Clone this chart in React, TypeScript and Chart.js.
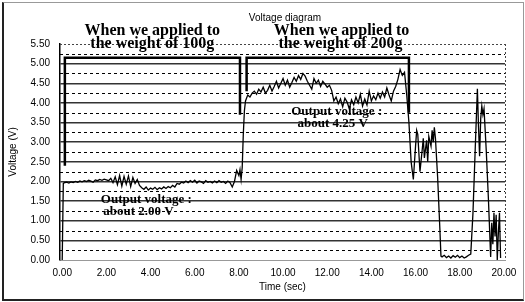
import React, { useEffect, useRef } from "react";
import { Chart, registerables } from "chart.js";

Chart.register(...registerables);

// ---- data ----
const timeSec = [
  0.0, 0.05, 0.1, 0.2, 0.3, 0.4, 0.5, 0.6, 0.7, 0.8, 0.9, 1.0, 1.1, 1.2, 1.3, 1.4, 1.5, 1.6, 1.7, 1.8, 1.9,
  2.0, 2.1, 2.2, 2.3, 2.4, 2.5, 2.6, 2.7, 2.8, 2.9, 3.0, 3.1, 3.2, 3.3, 3.4, 3.5, 3.6, 3.7, 3.8, 3.9,
  4.0, 4.1, 4.2, 4.3, 4.4, 4.5, 4.6, 4.7, 4.8, 4.9, 5.0, 5.1, 5.2, 5.3, 5.4, 5.5, 5.6, 5.7, 5.8, 5.9,
  6.0, 6.1, 6.2, 6.3, 6.4, 6.5, 6.6, 6.7, 6.8, 6.9, 7.0, 7.1, 7.2, 7.3, 7.4, 7.5, 7.6, 7.7, 7.8, 7.9,
  8.0, 8.05, 8.1, 8.15, 8.2, 8.25, 8.3, 8.4, 8.5, 8.6, 8.7, 8.8, 8.9,
  9.0, 9.1, 9.2, 9.3, 9.4, 9.5, 9.6, 9.7, 9.8, 9.9,
  10.0, 10.1, 10.2, 10.3, 10.4, 10.5, 10.6, 10.7, 10.8, 10.9,
  11.0, 11.1, 11.2, 11.3, 11.4, 11.5, 11.6, 11.7, 11.8, 11.9,
  12.0, 12.1, 12.2, 12.3, 12.4, 12.5, 12.6, 12.7, 12.8, 12.9,
  13.0, 13.1, 13.2, 13.3, 13.4, 13.5, 13.6, 13.7, 13.8, 13.9,
  14.0, 14.1, 14.2, 14.3, 14.4, 14.5, 14.6, 14.7, 14.8, 14.9,
  15.0, 15.1, 15.2, 15.3, 15.4, 15.5, 15.6, 15.7, 15.8, 15.9,
  16.0, 16.05, 16.1, 16.2, 16.3, 16.35, 16.4, 16.5, 16.55, 16.6, 16.7, 16.75, 16.8, 16.85, 16.9,
  17.0, 17.1, 17.15, 17.2, 17.3, 17.4, 17.5, 17.6, 17.7, 17.8, 17.9,
  18.0, 18.1, 18.2, 18.3, 18.4, 18.5, 18.6, 18.7, 18.8, 18.85, 18.9, 18.95,
  19.0, 19.05, 19.1, 19.2, 19.3, 19.4, 19.45, 19.5, 19.55, 19.6, 19.65, 19.7, 19.75, 19.8, 19.85,
];
const voltage = [
  0.0, 1.95, 1.97, 1.98, 1.96, 1.99, 1.97, 2.0, 1.98, 2.01, 1.99, 2.02, 2.0, 2.03, 2.01, 1.98, 2.04, 2.02, 2.05, 2.03, 2.06,
  2.04, 2.02, 2.08, 1.97, 2.12, 1.92, 2.15, 1.88, 2.13, 1.93, 2.14, 1.87, 2.1, 1.95, 2.05, 1.9, 1.84, 1.8, 1.86, 1.78,
  1.83, 1.8, 1.85, 1.79, 1.84, 1.81, 1.86, 1.82, 1.87, 1.84, 1.9, 1.86, 1.95, 1.93, 1.98, 1.96, 2.01, 1.97, 2.02, 1.98,
  2.03, 1.96, 2.01, 1.99, 1.95, 2.02, 1.98, 2.0, 1.96, 2.01, 1.97, 2.02, 1.98, 2.0, 1.95, 2.01, 1.97, 1.86, 2.0, 2.28,
  2.15, 2.3, 2.05, 2.35, 3.2, 3.8, 4.05, 4.2, 4.15, 4.25, 4.3, 4.22, 4.35,
  4.28, 4.4, 4.25, 4.32, 4.45, 4.3, 4.42, 4.55, 4.38, 4.5,
  4.62, 4.45, 4.58, 4.4, 4.52, 4.65, 4.55, 4.7, 4.6, 4.75,
  4.68, 4.55, 4.45, 4.35, 4.62, 4.5, 4.58, 4.42, 4.55, 4.48,
  4.4, 4.45, 4.32, 4.05, 4.15, 3.98, 4.1, 3.9, 4.12, 4.02,
  3.85, 4.08, 3.95, 4.15, 4.0, 4.22, 3.92, 4.1, 3.95, 4.3,
  4.05, 4.18, 4.08, 4.25, 4.12, 4.28, 4.15, 4.38, 4.2, 4.05,
  4.3, 4.42, 4.6, 4.85, 4.7, 4.78, 4.2, 3.5, 2.5, 2.05,
  2.9, 3.3, 3.2, 2.25, 2.8, 3.1, 2.6, 3.05, 2.5, 3.15, 2.9, 3.3, 3.0, 3.38, 3.1,
  2.1, 0.8, 0.1, 0.08, 0.12, 0.06, 0.1, 0.05, 0.11, 0.07, 0.12,
  0.06, 0.1, 0.05, 0.08, 0.12, 0.15, 1.2, 2.8, 4.36, 3.4, 2.64, 3.6,
  3.92, 3.7, 3.85, 2.8, 1.54, 0.08, 0.95, 0.4, 1.2, 0.6, 1.15, 0.0, 0.7, 1.2, 0.05,
];

const bracket100T = [0.12, 0.12, 8.05, 8.05];
const bracket100V = [2.4, 5.15, 5.15, 3.7];
const bracket200T = [8.35, 8.35, 15.7, 15.7];
const bracket200V = [4.3, 5.15, 5.15, 3.75];

const xTickValues = [0, 2, 4, 6, 8, 10, 12, 14, 16, 18, 20];
const yTickValues = [0, 0.5, 1, 1.5, 2, 2.5, 3, 3.5, 4, 4.5, 5, 5.5];
const dashedLevels = [0.25, 0.75, 1.25, 1.75, 2.25, 2.75, 3.25, 3.75, 4.25, 4.75, 5.25];

const chartTitle = "Voltage diagram";
const xTitle = "Time (sec)";
const yTitle = "Voltage (V)";

const notes = [
  { text: "When we applied to", t: 4.08, v: 5.83, size: 16 },
  { text: "the weight of 100g", t: 4.08, v: 5.5, size: 16 },
  { text: "When we applied to", t: 12.65, v: 5.83, size: 16 },
  { text: "the weight of 200g", t: 12.6, v: 5.5, size: 16 },
  { text: "Output voltage :", t: 3.81, v: 1.53, size: 13 },
  { text: "about 2.00 V", t: 3.45, v: 1.22, size: 13 },
  { text: "Output voltage :", t: 12.43, v: 3.79, size: 13 },
  { text: "about 4.25 V", t: 12.25, v: 3.46, size: 13 },
];

const SANS = "Arial, 'Liberation Sans', sans-serif";
const SERIF = "'Liberation Serif', 'Times New Roman', serif";

const overlayPlugin = {
  id: "overlay",
  beforeDatasetsDraw(chart: any) {
    const { ctx, chartArea, scales } = chart;
    const y = scales.y;
    ctx.save();
    ctx.strokeStyle = "#000";
    ctx.lineWidth = 1;
    ctx.setLineDash([3, 3]);
    for (const lv of dashedLevels) {
      const py = Math.round(y.getPixelForValue(lv)) + 0.5;
      ctx.beginPath();
      ctx.moveTo(chartArea.left, py);
      ctx.lineTo(chartArea.right, py);
      ctx.stroke();
    }
    ctx.setLineDash([2, 2]);
    ctx.strokeStyle = "#444";
    ctx.beginPath();
    ctx.moveTo(chartArea.left, Math.round(chartArea.top) + 0.5);
    ctx.lineTo(chartArea.right, Math.round(chartArea.top) + 0.5);
    ctx.moveTo(Math.round(chartArea.right) + 0.5, chartArea.top);
    ctx.lineTo(Math.round(chartArea.right) + 0.5, chartArea.bottom);
    ctx.stroke();
    ctx.restore();
  },
  afterDraw(chart: any) {
    const { ctx, chartArea, scales } = chart;
    const x = scales.x;
    const y = scales.y;
    ctx.save();
    ctx.fillStyle = "#000";
    ctx.textAlign = "center";
    ctx.textBaseline = "middle";
    for (const n of notes) {
      ctx.font = `bold ${n.size}px ${SERIF}`;
      ctx.fillText(n.text, x.getPixelForValue(n.t), y.getPixelForValue(n.v));
    }
    ctx.font = `10px ${SANS}`;
    ctx.fillText(chartTitle, 285, 18);
    ctx.fillText(xTitle, (chartArea.left + chartArea.right) / 2, 287);
    ctx.translate(13, (chartArea.top + chartArea.bottom) / 2);
    ctx.rotate(-Math.PI / 2);
    ctx.fillText(yTitle, 0, 0);
    ctx.restore();
  },
};

export default function App() {
  const canvasRef = useRef<HTMLCanvasElement>(null);

  useEffect(() => {
    if (!canvasRef.current) return;
    const toXY = (ts: number[], vs: number[]) => ts.map((t, i) => ({ x: t, y: vs[i] }));
    const chart = new Chart(canvasRef.current, {
      type: "line",
      data: {
        datasets: [
          {
            data: toXY(timeSec, voltage),
            borderColor: "#000",
            borderWidth: 1.3,
            pointRadius: 0,
            tension: 0,
          },
          {
            data: toXY(bracket100T, bracket100V),
            borderColor: "#000",
            borderWidth: 2.5,
            pointRadius: 0,
          },
          {
            data: toXY(bracket200T, bracket200V),
            borderColor: "#000",
            borderWidth: 2.5,
            pointRadius: 0,
          },
        ],
      },
      options: {
        animation: false,
        responsive: false,
        maintainAspectRatio: false,
        layout: { padding: { left: 0, top: 44, right: 20, bottom: 0 } },
        plugins: { legend: { display: false }, tooltip: { enabled: false }, title: { display: false } },
        scales: {
          x: {
            type: "linear",
            min: -0.1,
            max: 20.05,
            afterFit: (s: any) => { s.height = 42; },
            afterBuildTicks: (s: any) => { s.ticks = xTickValues.map((v) => ({ value: v })); },
            ticks: {
              color: "#000",
              font: { family: SANS, size: 10 },
              padding: 4,
              maxRotation: 0,
              callback: (v: any) => Number(v).toFixed(2),
            },
            grid: { display: false, drawTicks: true, tickLength: 3, color: "#888" },
            border: { display: true, color: "#999", width: 1 },
          },
          y: {
            type: "linear",
            min: 0,
            max: 5.5,
            afterFit: (s: any) => { s.width = 60; },
            afterBuildTicks: (s: any) => { s.ticks = yTickValues.map((v) => ({ value: v })); },
            ticks: {
              color: "#000",
              font: { family: SANS, size: 10 },
              padding: 10,
              callback: (v: any) => Number(v).toFixed(2),
            },
            grid: {
              drawTicks: false,
              color: (c: any) => (c.tick && (c.tick.value === 5.5 || c.tick.value === 0) ? "rgba(0,0,0,0)" : "#333"),
              lineWidth: 1.5,
            },
            border: { display: true, color: "#000", width: 1.5 },
          },
        },
      },
      plugins: [overlayPlugin],
    } as any);
    return () => chart.destroy();
  }, []);

  return (
    <div
      style={{
        position: "fixed",
        left: 0,
        top: 0,
        width: 525,
        height: 302,
        background: "#fff",
      }}
    >
      <canvas ref={canvasRef} width={525} height={302} style={{ display: "block" }} />
      <div
        style={{
          position: "absolute",
          left: 2,
          top: 2,
          width: 519,
          height: 296,
          borderLeft: "2px solid #222",
          borderBottom: "2px solid #222",
          borderTop: "1px solid #999",
          borderRight: "1px solid #999",
          pointerEvents: "none",
        }}
      />
    </div>
  );
}
